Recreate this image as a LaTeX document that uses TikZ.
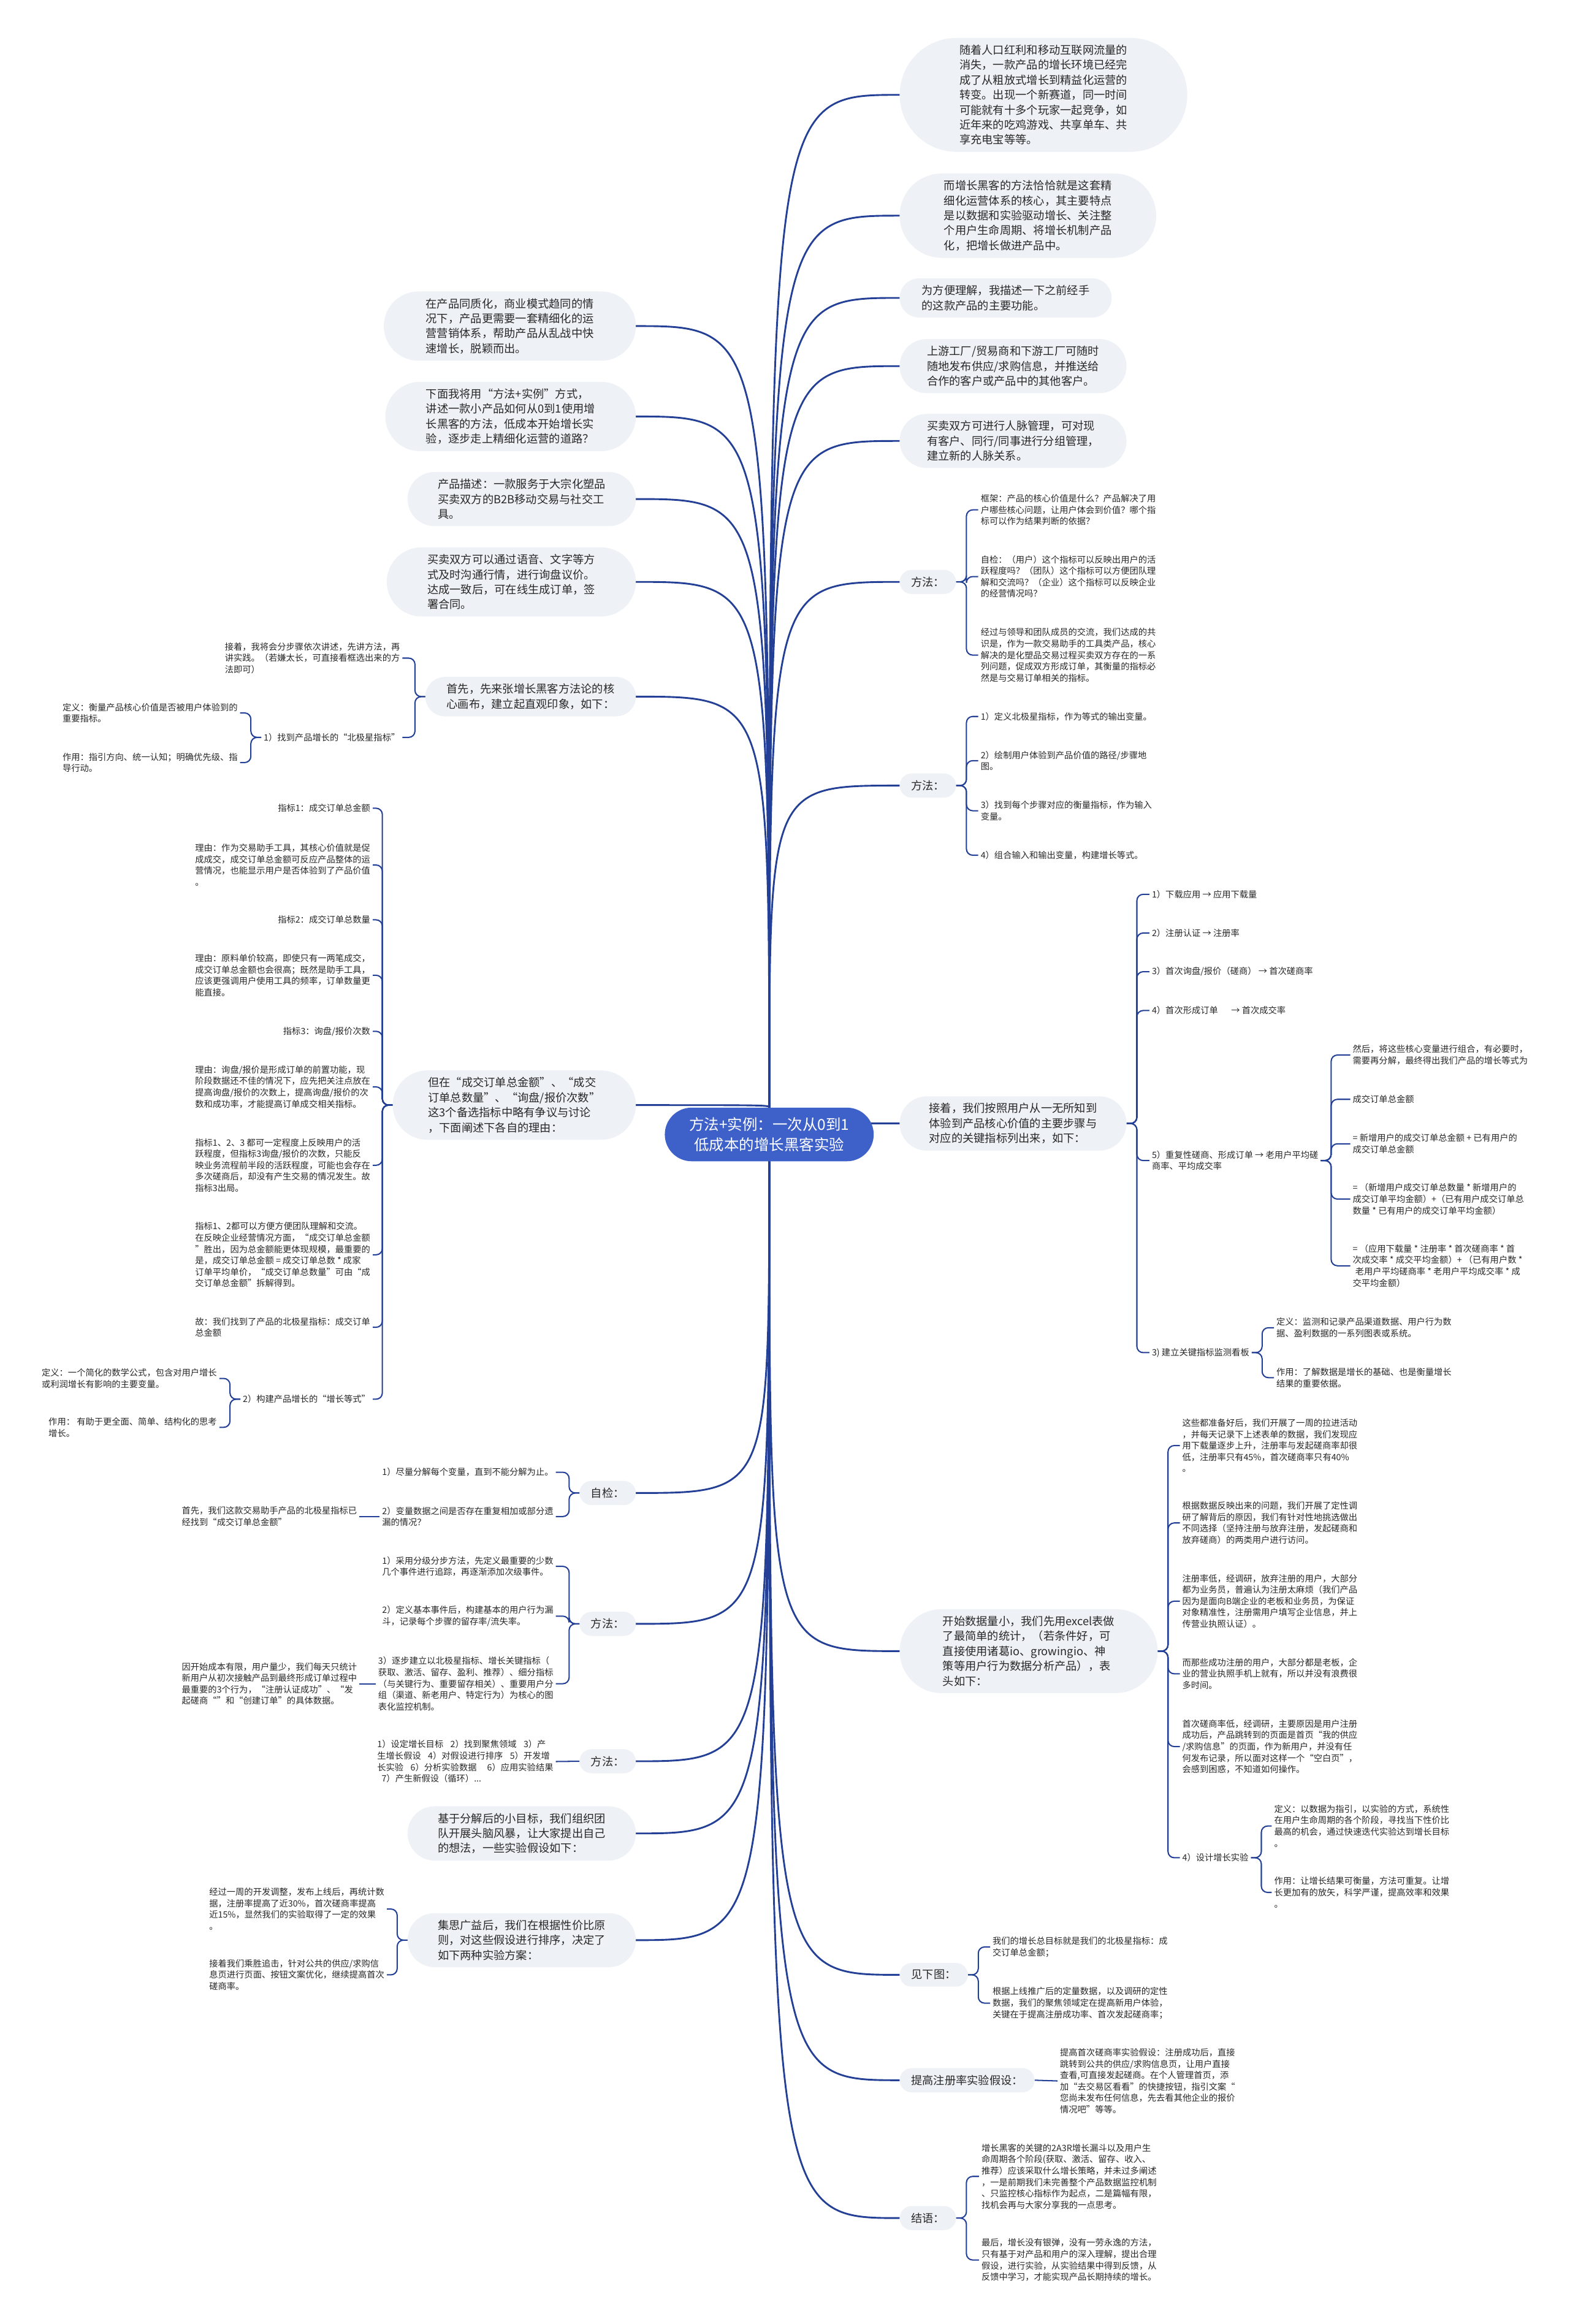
\documentclass[tikz,border=0pt]{standalone}
\usepackage{fontspec}
\setmainfont{Noto Sans CJK SC}
\usetikzlibrary{shapes.misc, backgrounds}

\definecolor{linkblue}{RGB}{35,64,150}
\definecolor{rootblue}{RGB}{62,96,201}
\definecolor{bubblegray}{RGB}{238,241,245}
\definecolor{inkgray}{RGB}{40,40,40}

\newcommand\rootsize{\fontsize{7.2pt}{9.8pt}\selectfont}
\newcommand\bubblesize{\fontsize{5.37pt}{7.18pt}\selectfont}
\newcommand\leafsize{\fontsize{4.2pt}{5.48pt}\selectfont}

\tikzset{
  root/.style={rounded rectangle, fill=rootblue, text=white, font=\rootsize,
               align=center, inner xsep=5pt, inner ysep=4.6pt, outer sep=0pt,
               minimum width=155*0.025cm},
  bubble/.style={rounded rectangle, fill=bubblegray, text=inkgray, font=\bubblesize,
                 align=left, inner xsep=0.7pt, inner ysep=3.3pt, outer sep=0pt},
  rbub/.style={bubble, anchor=west, minimum width=#1*0.025cm},
  lbub/.style={bubble, anchor=east, minimum width=#1*0.025cm},
  leaf/.style={font=\leafsize, text=inkgray, align=left, inner sep=1pt},
  rleaf/.style={leaf, anchor=west},
  lleaf/.style={leaf, anchor=east},
  rootlink/.style={line width=0.85pt,
                   to path={.. controls (\tikztostart |- \tikztotarget) .. (\tikztotarget) \tikztonodes}},
  rbrace/.style={rounded corners=3pt, to path={-- ++(7,0) |- (\tikztotarget) \tikztonodes}},
  lbrace/.style={rounded corners=3pt, to path={-- ++(-7,0) |- (\tikztotarget) \tikztonodes}}
}

\begin{document}
\begin{tikzpicture}[x=0.025cm, y=-0.025cm]
\begin{scope}[on background layer]
    \fill[white] (0,0) rectangle (1059,1568);
\end{scope}
\useasboundingbox (0,0) rectangle (1059,1568);

% centre
\node[root] (O) at (519,765.4) {方法+实例：一次从0到1\\低成本的增长黑客实验};

% right side
\begin{scope}
    \node[rbub=196] (R1) at (607,64) {随着人口红利和移动互联网流量的\\消失，一款产品的增长环境已经完\\成了从粗放式增长到精益化运营的\\转变。出现一个新赛道，同一时间\\可能就有十多个玩家一起竞争，如\\近年来的吃鸡游戏、共享单车、共\\享充电宝等等。};
    \node[rbub=175] (R2) at (607,145.5) {而增长黑客的方法恰恰就是这套精\\细化运营体系的核心，其主要特点\\是以数据和实验驱动增长、关注整\\个用户生命周期、将增长机制产品\\化，把增长做进产品中。};
    \node[rbub=145] (R3) at (607,201) {为方便理解，我描述一下之前经手\\的这款产品的主要功能。};
    \node[rbub=155] (R4) at (607,247) {上游工厂/贸易商和下游工厂可随时\\随地发布供应/求购信息，并推送给\\合作的客户或产品中的其他客户。};
    \node[rbub=155] (R5) at (607,297.5) {买卖双方可进行人脉管理，可对现\\有客户、同行/同事进行分组管理，\\建立新的人脉关系。};

    \node[rbub=40] (M1) at (607,392.6) {方法：};
    \node[rleaf] (m1a) at (660,344) {框架：产品的核心价值是什么？产品解决了用\\户哪些核心问题，让用户体会到价值？哪个指\\标可以作为结果判断的依据？};
    \node[rleaf] (m1b) at (660,389) {自检：（用户）这个指标可以反映出用户的活\\跃程度吗？（团队）这个指标可以方便团队理\\解和交流吗？（企业）这个指标可以反映企业\\的经营情况吗？};
    \node[rleaf] (m1c) at (660,442) {经过与领导和团队成员的交流，我们达成的共\\识是，作为一款交易助手的工具类产品，核心\\解决的是化塑品交易过程买卖双方存在的一系\\列问题，促成双方形成订单，其衡量的指标必\\然是与交易订单相关的指标。};

    \node[rbub=40] (M2) at (607,530) {方法：};
    \node[rleaf] (m2a) at (660,483.4) {1）定义北极星指标，作为等式的输出变量。};
    \node[rleaf] (m2b) at (660,513.2) {2）绘制用户体验到产品价值的路径/步骤地\\图。};
    \node[rleaf] (m2c) at (660,547) {3）找到每个步骤对应的衡量指标，作为输入\\变量。};
    \node[rleaf] (m2d) at (660,577) {4）组合输入和输出变量，构建增长等式。};

    \node[rbub=155] (J) at (607,758) {接着，我们按照用户从一无所知到\\体验到产品核心价值的主要步骤与\\对应的关键指标列出来，如下：};
    \node[rleaf] (j1) at (775.5,603.4) {1）下载应用 → 应用下载量};
    \node[rleaf] (j2) at (775.5,629.5) {2）注册认证 → 注册率};
    \node[rleaf] (j3) at (775.5,655.6) {3）首次询盘/报价（磋商） → 首次磋商率};
    \node[rleaf] (j4) at (775.5,681.8) {4）首次形成订单\hspace{1.5em}→ 首次成交率};
    \node[rleaf] (j5) at (775.5,783) {5）重复性磋商、形成订单 → 老用户平均磋\\商率、平均成交率};
    \node[rleaf] (j6) at (775.5,912.6) {3) 建立关键指标监测看板};
    \node[rleaf] (j5a) at (911,711.8) {然后，将这些核心变量进行组合，有必要时，\\需要再分解，最终得出我们产品的增长等式为};
    \node[rleaf] (j5b) at (911,741.7) {成交订单总金额};
    \node[rleaf] (j5c) at (911,771.7) {= 新增用户的成交订单总金额 + 已有用户的\\成交订单总金额};
    \node[rleaf] (j5d) at (911,809) {= （新增用户成交订单总数量 * 新增用户的\\成交订单平均金额）+（已有用户成交订单总\\数量 * 已有用户的成交订单平均金额）};
    \node[rleaf] (j5e) at (911,854) {= （应用下载量 * 注册率 * 首次磋商率 * 首\\次成交率 * 成交平均金额）+ （已有用户数 *\\\hspace{0.3em}老用户平均磋商率 * 老用户平均成交率 * 成\\交平均金额）};
    \node[rleaf] (j6a) at (859.5,895.8) {定义：监测和记录产品渠道数据、用户行为数\\据、盈利数据的一系列图表或系统。};
    \node[rleaf] (j6b) at (859.5,929.5) {作用：了解数据是增长的基础、也是衡量增长\\结果的重要依据。};

    \node[rbub=176] (K) at (607,1114) {开始数据量小，我们先用excel表做\\了最简单的统计，（若条件好，可\\直接使用诸葛io、growingio、神\\策等用户行为数据分析产品），表\\头如下：};
    \node[rleaf] (k1) at (796,975.3) {这些都准备好后，我们开展了一周的拉进活动\\，并每天记录下上述表单的数据，我们发现应\\用下载量逐步上升，注册率与发起磋商率却很\\低，注册率只有45\%，首次磋商率只有40\%\\。};
    \node[rleaf] (k2) at (796,1027.5) {根据数据反映出来的问题，我们开展了定性调\\研了解背后的原因，我们有针对性地挑选做出\\不同选择（坚持注册与放弃注册，发起磋商和\\放弃磋商）的两类用户进行访问。};
    \node[rleaf] (k3) at (796,1080.3) {注册率低，经调研，放弃注册的用户，大部分\\都为业务员，普遍认为注册太麻烦（我们产品\\因为是面向B端企业的老板和业务员，为保证\\对象精准性，注册需用户填写企业信息，并上\\传营业执照认证）。};
    \node[rleaf] (k4) at (796,1129.3) {而那些成功注册的用户，大部分都是老板，企\\业的营业执照手机上就有，所以并没有浪费很\\多时间。};
    \node[rleaf] (k5) at (796,1178.4) {首次磋商率低，经调研，主要原因是用户注册\\成功后，产品跳转到的页面是首页“我的供应\\/求购信息”的页面，作为新用户，并没有任\\何发布记录，所以面对这样一个“空白页”，\\会感到困惑，不知道如何操作。};
    \node[rleaf] (k6) at (796,1253.4) {4）设计增长实验};
    \node[rleaf] (k6a) at (858,1232) {定义：以数据为指引，以实验的方式，系统性\\在用户生命周期的各个阶段，寻找当下性价比\\最高的机会，通过快速迭代实验达到增长目标\\。};
    \node[rleaf] (k6b) at (858,1276.8) {作用：让增长结果可衡量，方法可重复。让增\\长更加有的放矢，科学严谨，提高效率和效果\\。};

    \node[rbub=48] (L) at (607,1332.4) {见下图：};
    \node[rleaf] (la) at (668,1313.6) {我们的增长总目标就是我们的北极星指标：成\\交订单总金额；};
    \node[rleaf] (lb) at (668,1351.5) {根据上线推广后的定量数据，以及调研的定性\\数据，我们的聚焦领域定在提高新用户体验，\\关键在于提高注册成功率、首次发起磋商率；};

    \node[rbub=93] (T) at (607,1403.5) {提高注册率实验假设：};
    \node[rleaf] (ta) at (713.5,1404) {提高首次磋商率实验假设：注册成功后，直接\\跳转到公共的供应/求购信息页，让用户直接\\查看,可直接发起磋商。在个人管理首页，添\\加“去交易区看看”的快捷按钮，指引文案“\\您尚未发布任何信息，先去看其他企业的报价\\情况吧”等等。};

    \node[rbub=40] (E) at (607,1496.5) {结语：};
    \node[rleaf] (ea) at (660.5,1468.4) {增长黑客的关键的2A3R增长漏斗以及用户生\\命周期各个阶段(获取、激活、留存、收入、\\推荐）应该采取什么增长策略，并未过多阐述\\，一是前期我们未完善整个产品数据监控机制\\、只监控核心指标作为起点，二是篇幅有限，\\找机会再与大家分享我的一点思考。};
    \node[rleaf] (eb) at (660.5,1524.8) {最后，增长没有银弹，没有一劳永逸的方法，\\只有基于对产品和用户的深入理解，提出合理\\假设，进行实验，从实验结果中得到反馈，从\\反馈中学习，才能实现产品长期持续的增长。};
\end{scope}

% left side
\begin{scope}
    \node[lbub=172] (L1) at (429,220) {在产品同质化，商业模式趋同的情\\况下，产品更需要一套精细化的运\\营营销体系，帮助产品从乱战中快\\速增长，脱颖而出。};
    \node[lbub=171] (L2) at (429,281) {下面我将用“方法+实例”方式，\\讲述一款小产品如何从0到1使用增\\长黑客的方法，低成本开始增长实\\验，逐步走上精细化运营的道路？};
    \node[lbub=156] (L3) at (429,336.7) {产品描述：一款服务于大宗化塑品\\买卖双方的B2B移动交易与社交工\\具。};
    \node[lbub=170] (L4) at (429,392.6) {买卖双方可以通过语音、文字等方\\式及时沟通行情，进行询盘议价。\\达成一致后，可在线生成订单，签\\署合同。};

    \node[lbub=144] (L5) at (429,470) {首先，先来张增长黑客方法论的核\\心画布，建立起直观印象，如下：};
    \node[lleaf] (l5a) at (271.5,444) {接着，我将会分步骤依次讲述，先讲方法，再\\讲实践。（若嫌太长，可直接看框选出来的方\\法即可）};
    \node[lleaf] (l5b) at (271.5,497.5) {1）找到产品增长的“北极星指标”};
    \node[lleaf] (l5c) at (162,481) {定义：衡量产品核心价值是否被用户体验到的\\重要指标。};
    \node[lleaf] (l5d) at (162,514.5) {作用：指引方向、统一认知；明确优先级、指\\导行动。};

    \node[lbub=166] (L6) at (429,745.6) {但在“成交订单总金额”、“成交\\订单总数量”、“询盘/报价次数”\\这3个备选指标中略有争议与讨论\\，下面阐述下各自的理由：};
    \node[lleaf] (l6a) at (251.5,545.3) {指标1：成交订单总金额};
    \node[lleaf] (l6b) at (251.5,583.6) {理由：作为交易助手工具，其核心价值就是促\\成成交，成交订单总金额可反应产品整体的运\\营情况，也能显示用户是否体验到了产品价值\\。};
    \node[lleaf] (l6c) at (251.5,620.6) {指标2：成交订单总数量};
    \node[lleaf] (l6d) at (251.5,658) {理由：原料单价较高，即使只有一两笔成交，\\成交订单总金额也会很高；既然是助手工具，\\应该更强调用户使用工具的频率，订单数量更\\能直接。};
    \node[lleaf] (l6e) at (251.5,695.8) {指标3：询盘/报价次数};
    \node[lleaf] (l6f) at (251.5,733.3) {理由：询盘/报价是形成订单的前置功能，现\\阶段数据还不佳的情况下，应先把关注点放在\\提高询盘/报价的次数上，提高询盘/报价的次\\数和成功率，才能提高订单成交相关指标。};
    \node[lleaf] (l6g) at (251.5,786.2) {指标1、2、3 都可一定程度上反映用户的活\\跃程度，但指标3询盘/报价的次数，只能反\\映业务流程前半段的活跃程度，可能也会存在\\多次磋商后，却没有产生交易的情况发生。故\\指标3出局。};
    \node[lleaf] (l6h) at (251.5,846.6) {指标1、2都可以方便方便团队理解和交流。\\在反映企业经营情况方面，“成交订单总金额\\”胜出，因为总金额能更体现规模，最重要的\\是，成交订单总金额 = 成交订单总数 * 成家\\订单平均单价，“成交订单总数量”可由“成\\交订单总金额”拆解得到。};
    \node[lleaf] (l6i) at (251.5,895.5) {故：我们找到了产品的北极星指标：成交订单\\总金额};
    \node[lleaf] (l6j) at (251.5,944) {2）构建产品增长的“增长等式”};
    \node[lleaf] (l6k) at (148,930) {定义：一个简化的数学公式，包含对用户增长\\或利润增长有影响的主要变量。};
    \node[lleaf] (l6l) at (148,963) {作用： 有助于更全面、简单、结构化的思考\\增长。};

    \node[lbub=40] (S) at (429,1007.3) {自检：};
    \node[lleaf] (s1) at (375,993.3) {1）尽量分解每个变量，直到不能分解为止。};
    \node[lleaf] (s2) at (375,1023.2) {2）变量数据之间是否存在重复相加或部分遗\\漏的情况？};
    \node[lleaf] (s2a) at (242.5,1023.2) {首先，我们这款交易助手产品的北极星指标已\\经找到“成交订单总金额”};

    \node[lbub=40] (P1) at (429,1095.6) {方法：};
    \node[lleaf] (p1a) at (375,1056.8) {1）采用分级分步方法，先定义最重要的少数\\几个事件进行追踪，再逐渐添加次级事件。};
    \node[lleaf] (p1b) at (375,1090.4) {2）定义基本事件后，构建基本的用户行为漏\\斗，记录每个步骤的留存率/流失率。};
    \node[lleaf] (p1c) at (375,1136) {3）逐步建立以北极星指标、增长关键指标（\\获取、激活、留存、盈利、推荐）、细分指标\\（与关键行为、重要留存相关）、重要用户分\\组（渠道、新老用户、特定行为）为核心的图\\表化监控机制。};
    \node[lleaf] (p1ca) at (242.5,1136) {因开始成本有限，用户量少，我们每天只统计\\新用户从初次接触产品到最终形成订单过程中\\最重要的3个行为，“注册认证成功”、“发\\起磋商“”和“创建订单”的具体数据。};

    \node[lbub=40] (P2) at (429,1188.3) {方法：};
    \node[lleaf] (p2a) at (375,1188.5) {1）设定增长目标\hspace{0.8em}2）找到聚焦领域\hspace{0.8em}3）产\\生增长假设\hspace{0.8em}4）对假设进行排序\hspace{0.8em}5）开发增\\长实验\hspace{0.8em}6）分析实验数据\hspace{1.2em}6）应用实验结果\\\hspace{0.5em}7）产生新假设（循环）...};

    \node[lbub=156] (B) at (429,1237) {基于分解后的小目标，我们组织团\\队开展头脑风暴，让大家提出自己\\的想法，一些实验假设如下：};

    \node[lbub=156] (G) at (429,1309) {集思广益后，我们在根据性价比原\\则，对这些假设进行排序，决定了\\如下两种实验方案：};
    \node[lleaf] (ga) at (261,1288) {经过一周的开发调整，发布上线后，再统计数\\据，注册率提高了近30\%，首次磋商率提高\\近15\%，显然我们的实验取得了一定的效果\\。};
    \node[lleaf] (gb) at (261,1332.4) {接着我们乘胜追击，针对公共的供应/求购信\\息页进行页面、按钮文案优化，继续提高首次\\磋商率。};
\end{scope}

% connectors
\begin{scope}[on background layer,
              every edge/.style={draw=linkblue, line width=0.6pt}]
    \path (O) edge[rootlink] (R1.west);
    \path (O) edge[rootlink] (R2.west);
    \path (O) edge[rootlink] (R3.west);
    \path (O) edge[rootlink] (R4.west);
    \path (O) edge[rootlink] (R5.west);
    \path (O) edge[rootlink] (M1.west);
    \path (O) edge[rootlink] (M2.west);
    \path (O) edge[rootlink] (J.west);
    \path (O) edge[rootlink] (K.west);
    \path (O) edge[rootlink] (L.west);
    \path (O) edge[rootlink] (T.west);
    \path (O) edge[rootlink] (E.west);

    \path (O) edge[rootlink] (L1.east);
    \path (O) edge[rootlink] (L2.east);
    \path (O) edge[rootlink] (L3.east);
    \path (O) edge[rootlink] (L4.east);
    \path (O) edge[rootlink] (L5.east);
    \path (O) edge[rootlink] (L6.east);
    \path (O) edge[rootlink] (S.east);
    \path (O) edge[rootlink] (P1.east);
    \path (O) edge[rootlink] (P2.east);
    \path (O) edge[rootlink] (B.east);
    \path (O) edge[rootlink] (G.east);

    \path (M1.east) edge[rbrace] (m1a.west) edge[rbrace] (m1b.west) edge[rbrace] (m1c.west);
    \path (M2.east) edge[rbrace] (m2a.west) edge[rbrace] (m2b.west) edge[rbrace] (m2c.west) edge[rbrace] (m2d.west);
    \path (J.east) edge[rbrace] (j1.west) edge[rbrace] (j2.west) edge[rbrace] (j3.west)
                   edge[rbrace] (j4.west) edge[rbrace] (j5.west) edge[rbrace] (j6.west);
    \path (j5.east) edge[rbrace] (j5a.west) edge[rbrace] (j5b.west) edge[rbrace] (j5c.west)
                    edge[rbrace] (j5d.west) edge[rbrace] (j5e.west);
    \path (j6.east) edge[rbrace] (j6a.west) edge[rbrace] (j6b.west);
    \path (K.east) edge[rbrace] (k1.west) edge[rbrace] (k2.west) edge[rbrace] (k3.west)
                   edge[rbrace] (k4.west) edge[rbrace] (k5.west) edge[rbrace] (k6.west);
    \path (k6.east) edge[rbrace] (k6a.west) edge[rbrace] (k6b.west);
    \path (L.east) edge[rbrace] (la.west) edge[rbrace] (lb.west);
    \path (T.east) edge (ta.west);
    \path (E.east) edge[rbrace] (ea.west) edge[rbrace] (eb.west);

    \path (L5.west) edge[lbrace] (l5a.east) edge[lbrace] (l5b.east);
    \path (l5b.west) edge[lbrace] (l5c.east) edge[lbrace] (l5d.east);
    \path (L6.west) edge[lbrace] (l6a.east) edge[lbrace] (l6b.east) edge[lbrace] (l6c.east)
                    edge[lbrace] (l6d.east) edge[lbrace] (l6e.east) edge[lbrace] (l6f.east)
                    edge[lbrace] (l6g.east) edge[lbrace] (l6h.east) edge[lbrace] (l6i.east)
                    edge[lbrace] (l6j.east);
    \path (l6j.west) edge[lbrace] (l6k.east) edge[lbrace] (l6l.east);
    \path (S.west) edge[lbrace] (s1.east) edge[lbrace] (s2.east);
    \path (s2.west) edge (s2a.east);
    \path (P1.west) edge[lbrace] (p1a.east) edge[lbrace] (p1b.east) edge[lbrace] (p1c.east);
    \path (p1c.west) edge (p1ca.east);
    \path (P2.west) edge (p2a.east);
    \path (G.west) edge[lbrace] (ga.east) edge[lbrace] (gb.east);
\end{scope}
\end{tikzpicture}
\end{document}
